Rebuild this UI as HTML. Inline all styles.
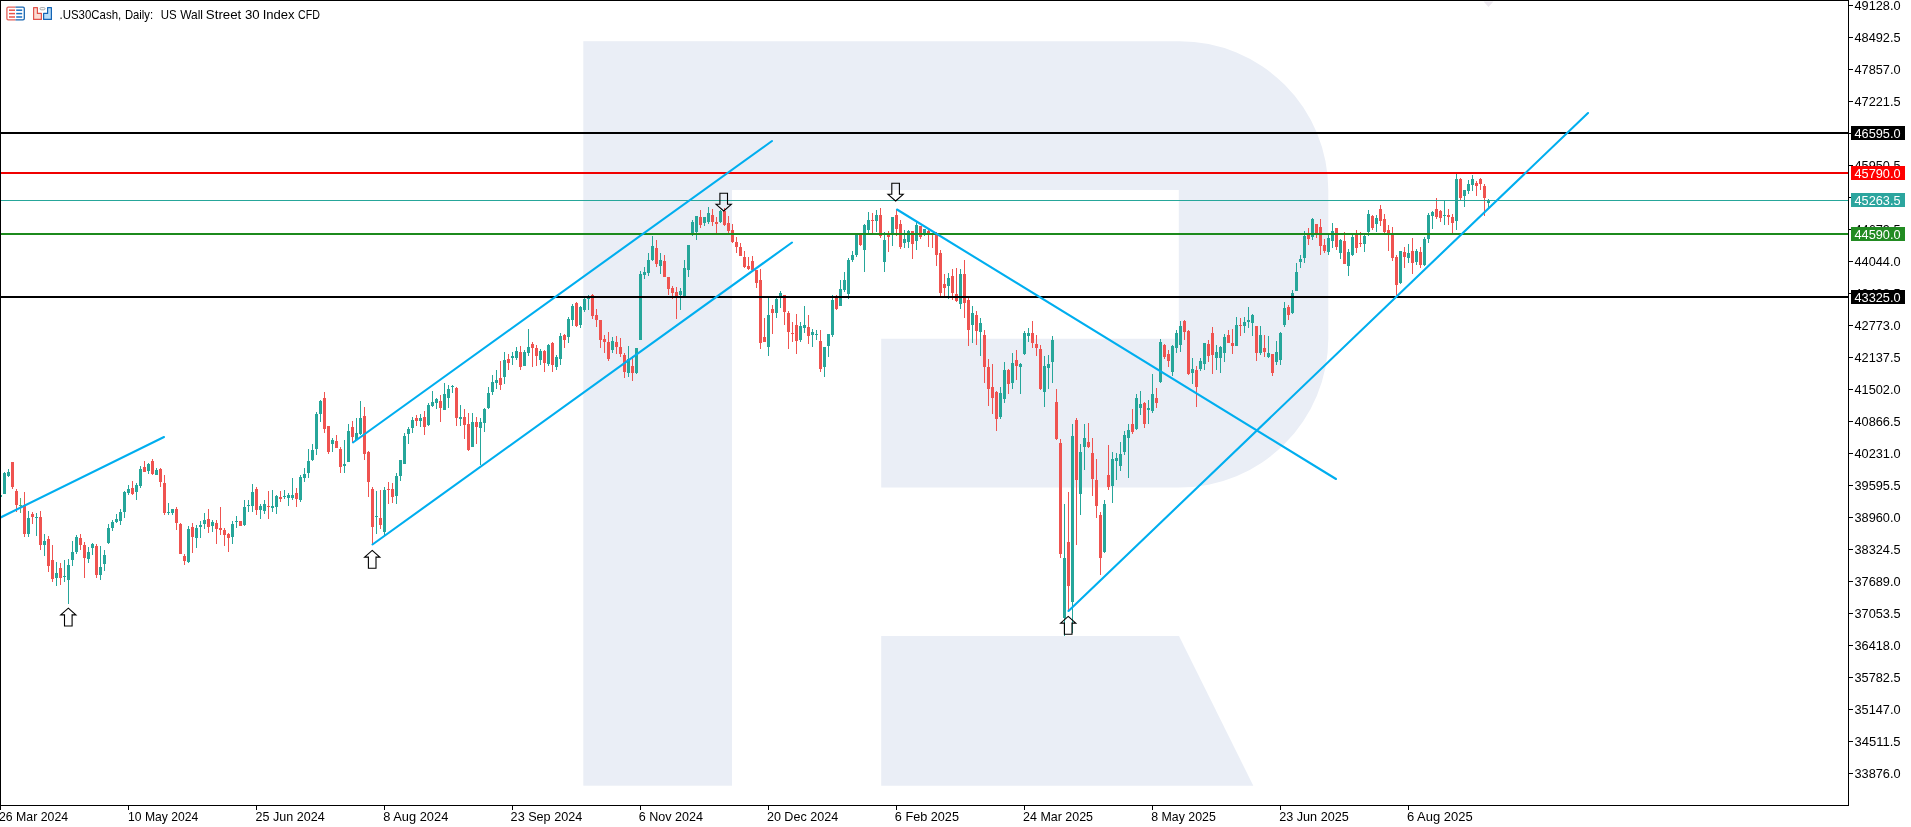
<!DOCTYPE html>
<html><head><meta charset="utf-8"><title>.US30Cash Daily</title>
<style>
html,body{margin:0;padding:0;background:#fff;}
body{width:1911px;height:827px;overflow:hidden;position:relative;font-family:"Liberation Sans",sans-serif;}
svg{position:absolute;left:0;top:0;}
text{font-family:"Liberation Sans",sans-serif;filter:grayscale(1);}
</style></head><body>
<svg width="1911" height="827" viewBox="0 0 1911 827">
<g fill="#eaeef6">
<rect x="583.3" y="41.2" width="148.7" height="744.5"/>
<path d="M732,41.2 H1179.5 A148.8,148.8 0 0 1 1328.3,190 V338.3 A148.8,149.3 0 0 1 1179.5,487.6 H881.2 V338.7 H1178.8 V190 H732 Z"/>
<path d="M881.2,636.1 H1179 L1253.3,785.7 H881.2 Z"/>
</g>
<g shape-rendering="crispEdges">
<rect x="1" y="495" width="1" height="2" fill="#26a69a"/>
<rect x="4" y="472" width="1" height="22" fill="#26a69a"/>
<rect x="3" y="473" width="3" height="21" fill="#26a69a"/>
<rect x="8" y="469" width="1" height="8" fill="#26a69a"/>
<rect x="7" y="472" width="3" height="4" fill="#26a69a"/>
<rect x="12" y="462" width="1" height="27" fill="#ef5350"/>
<rect x="11" y="462" width="3" height="25" fill="#ef5350"/>
<rect x="16" y="489" width="1" height="23" fill="#ef5350"/>
<rect x="15" y="491" width="3" height="14" fill="#ef5350"/>
<rect x="20" y="498" width="1" height="15" fill="#58b070"/>
<rect x="19" y="505" width="3" height="1" fill="#58b070"/>
<rect x="24" y="492" width="1" height="45" fill="#ef5350"/>
<rect x="23" y="505" width="3" height="29" fill="#ef5350"/>
<rect x="28" y="511" width="1" height="26" fill="#26a69a"/>
<rect x="27" y="518" width="3" height="16" fill="#26a69a"/>
<rect x="32" y="512" width="1" height="12" fill="#ef5350"/>
<rect x="31" y="514" width="3" height="3" fill="#ef5350"/>
<rect x="36" y="513" width="1" height="23" fill="#26a69a"/>
<rect x="35" y="517" width="3" height="1" fill="#26a69a"/>
<rect x="40" y="511" width="1" height="39" fill="#ef5350"/>
<rect x="39" y="517" width="3" height="28" fill="#ef5350"/>
<rect x="44" y="534" width="1" height="22" fill="#26a69a"/>
<rect x="43" y="541" width="3" height="4" fill="#26a69a"/>
<rect x="48" y="536" width="1" height="36" fill="#ef5350"/>
<rect x="47" y="539" width="3" height="27" fill="#ef5350"/>
<rect x="52" y="545" width="1" height="37" fill="#ef5350"/>
<rect x="51" y="560" width="3" height="19" fill="#ef5350"/>
<rect x="56" y="562" width="1" height="24" fill="#26a69a"/>
<rect x="55" y="573" width="3" height="5" fill="#26a69a"/>
<rect x="60" y="563" width="1" height="22" fill="#ef5350"/>
<rect x="59" y="568" width="3" height="10" fill="#ef5350"/>
<rect x="64" y="560" width="1" height="22" fill="#26a69a"/>
<rect x="63" y="576" width="3" height="1" fill="#26a69a"/>
<rect x="68" y="559" width="1" height="45" fill="#26a69a"/>
<rect x="67" y="565" width="3" height="15" fill="#26a69a"/>
<rect x="72" y="541" width="1" height="25" fill="#26a69a"/>
<rect x="71" y="552" width="3" height="8" fill="#26a69a"/>
<rect x="76" y="535" width="1" height="19" fill="#26a69a"/>
<rect x="75" y="537" width="3" height="15" fill="#26a69a"/>
<rect x="80" y="534" width="1" height="16" fill="#ef5350"/>
<rect x="79" y="538" width="3" height="7" fill="#ef5350"/>
<rect x="84" y="542" width="1" height="36" fill="#ef5350"/>
<rect x="83" y="545" width="3" height="13" fill="#ef5350"/>
<rect x="88" y="547" width="1" height="16" fill="#26a69a"/>
<rect x="87" y="552" width="3" height="7" fill="#26a69a"/>
<rect x="92" y="543" width="1" height="12" fill="#26a69a"/>
<rect x="91" y="544" width="3" height="4" fill="#26a69a"/>
<rect x="96" y="544" width="1" height="34" fill="#ef5350"/>
<rect x="95" y="546" width="3" height="29" fill="#ef5350"/>
<rect x="100" y="546" width="1" height="34" fill="#26a69a"/>
<rect x="99" y="567" width="3" height="8" fill="#26a69a"/>
<rect x="104" y="550" width="1" height="21" fill="#26a69a"/>
<rect x="103" y="555" width="3" height="9" fill="#26a69a"/>
<rect x="108" y="524" width="1" height="20" fill="#26a69a"/>
<rect x="107" y="528" width="3" height="15" fill="#26a69a"/>
<rect x="112" y="520" width="1" height="11" fill="#26a69a"/>
<rect x="111" y="522" width="3" height="6" fill="#26a69a"/>
<rect x="116" y="514" width="1" height="9" fill="#26a69a"/>
<rect x="115" y="519" width="3" height="3" fill="#26a69a"/>
<rect x="120" y="509" width="1" height="16" fill="#26a69a"/>
<rect x="119" y="512" width="3" height="9" fill="#26a69a"/>
<rect x="124" y="491" width="1" height="27" fill="#26a69a"/>
<rect x="123" y="492" width="3" height="20" fill="#26a69a"/>
<rect x="128" y="485" width="1" height="10" fill="#26a69a"/>
<rect x="127" y="489" width="3" height="4" fill="#26a69a"/>
<rect x="132" y="481" width="1" height="14" fill="#ef5350"/>
<rect x="131" y="488" width="3" height="6" fill="#ef5350"/>
<rect x="136" y="483" width="1" height="17" fill="#26a69a"/>
<rect x="135" y="485" width="3" height="7" fill="#26a69a"/>
<rect x="140" y="466" width="1" height="22" fill="#26a69a"/>
<rect x="139" y="469" width="3" height="17" fill="#26a69a"/>
<rect x="144" y="461" width="1" height="11" fill="#ef5350"/>
<rect x="143" y="467" width="3" height="5" fill="#ef5350"/>
<rect x="148" y="463" width="1" height="11" fill="#26a69a"/>
<rect x="147" y="464" width="3" height="7" fill="#26a69a"/>
<rect x="152" y="459" width="1" height="16" fill="#ef5350"/>
<rect x="151" y="461" width="3" height="13" fill="#ef5350"/>
<rect x="156" y="468" width="1" height="7" fill="#26a69a"/>
<rect x="155" y="470" width="3" height="5" fill="#26a69a"/>
<rect x="160" y="468" width="1" height="19" fill="#ef5350"/>
<rect x="159" y="469" width="3" height="13" fill="#ef5350"/>
<rect x="164" y="475" width="1" height="40" fill="#ef5350"/>
<rect x="163" y="483" width="3" height="30" fill="#ef5350"/>
<rect x="168" y="503" width="1" height="12" fill="#26a69a"/>
<rect x="167" y="512" width="3" height="1" fill="#26a69a"/>
<rect x="172" y="509" width="1" height="6" fill="#26a69a"/>
<rect x="171" y="509" width="3" height="4" fill="#26a69a"/>
<rect x="176" y="507" width="1" height="23" fill="#ef5350"/>
<rect x="175" y="509" width="3" height="14" fill="#ef5350"/>
<rect x="180" y="523" width="1" height="31" fill="#ef5350"/>
<rect x="179" y="524" width="3" height="30" fill="#ef5350"/>
<rect x="184" y="554" width="1" height="11" fill="#ef5350"/>
<rect x="183" y="556" width="3" height="5" fill="#ef5350"/>
<rect x="188" y="526" width="1" height="37" fill="#26a69a"/>
<rect x="187" y="529" width="3" height="33" fill="#26a69a"/>
<rect x="192" y="523" width="1" height="30" fill="#ef5350"/>
<rect x="191" y="527" width="3" height="10" fill="#ef5350"/>
<rect x="196" y="525" width="1" height="23" fill="#26a69a"/>
<rect x="195" y="528" width="3" height="10" fill="#26a69a"/>
<rect x="200" y="521" width="1" height="17" fill="#26a69a"/>
<rect x="199" y="525" width="3" height="2" fill="#26a69a"/>
<rect x="204" y="513" width="1" height="16" fill="#26a69a"/>
<rect x="203" y="520" width="3" height="4" fill="#26a69a"/>
<rect x="208" y="509" width="1" height="24" fill="#ef5350"/>
<rect x="207" y="519" width="3" height="8" fill="#ef5350"/>
<rect x="212" y="520" width="1" height="12" fill="#26a69a"/>
<rect x="211" y="522" width="3" height="4" fill="#26a69a"/>
<rect x="216" y="520" width="1" height="24" fill="#ef5350"/>
<rect x="215" y="523" width="3" height="6" fill="#ef5350"/>
<rect x="220" y="507" width="1" height="28" fill="#ef5350"/>
<rect x="219" y="528" width="3" height="2" fill="#ef5350"/>
<rect x="224" y="528" width="1" height="18" fill="#ef5350"/>
<rect x="223" y="530" width="3" height="5" fill="#ef5350"/>
<rect x="228" y="533" width="1" height="19" fill="#ef5350"/>
<rect x="227" y="534" width="3" height="4" fill="#ef5350"/>
<rect x="232" y="521" width="1" height="23" fill="#26a69a"/>
<rect x="231" y="524" width="3" height="13" fill="#26a69a"/>
<rect x="236" y="516" width="1" height="12" fill="#26a69a"/>
<rect x="235" y="521" width="3" height="1" fill="#26a69a"/>
<rect x="240" y="521" width="1" height="5" fill="#ef5350"/>
<rect x="239" y="521" width="3" height="5" fill="#ef5350"/>
<rect x="244" y="500" width="1" height="26" fill="#26a69a"/>
<rect x="243" y="507" width="3" height="18" fill="#26a69a"/>
<rect x="248" y="500" width="1" height="12" fill="#26a69a"/>
<rect x="247" y="505" width="3" height="1" fill="#26a69a"/>
<rect x="252" y="484" width="1" height="28" fill="#26a69a"/>
<rect x="251" y="492" width="3" height="14" fill="#26a69a"/>
<rect x="256" y="487" width="1" height="28" fill="#ef5350"/>
<rect x="255" y="489" width="3" height="21" fill="#ef5350"/>
<rect x="260" y="504" width="1" height="15" fill="#26a69a"/>
<rect x="259" y="506" width="3" height="4" fill="#26a69a"/>
<rect x="264" y="500" width="1" height="14" fill="#26a69a"/>
<rect x="263" y="504" width="3" height="7" fill="#26a69a"/>
<rect x="268" y="491" width="1" height="28" fill="#ef5350"/>
<rect x="267" y="506" width="3" height="1" fill="#ef5350"/>
<rect x="272" y="490" width="1" height="22" fill="#26a69a"/>
<rect x="271" y="506" width="3" height="2" fill="#26a69a"/>
<rect x="276" y="495" width="1" height="19" fill="#26a69a"/>
<rect x="275" y="496" width="3" height="11" fill="#26a69a"/>
<rect x="280" y="491" width="1" height="11" fill="#ef5350"/>
<rect x="279" y="497" width="3" height="2" fill="#ef5350"/>
<rect x="284" y="490" width="1" height="9" fill="#26a69a"/>
<rect x="283" y="496" width="3" height="1" fill="#26a69a"/>
<rect x="288" y="493" width="1" height="13" fill="#26a69a"/>
<rect x="287" y="495" width="3" height="3" fill="#26a69a"/>
<rect x="292" y="478" width="1" height="22" fill="#26a69a"/>
<rect x="291" y="495" width="3" height="3" fill="#26a69a"/>
<rect x="296" y="488" width="1" height="19" fill="#ef5350"/>
<rect x="295" y="493" width="3" height="6" fill="#ef5350"/>
<rect x="300" y="475" width="1" height="27" fill="#26a69a"/>
<rect x="299" y="477" width="3" height="23" fill="#26a69a"/>
<rect x="304" y="468" width="1" height="14" fill="#26a69a"/>
<rect x="303" y="474" width="3" height="4" fill="#26a69a"/>
<rect x="308" y="449" width="1" height="29" fill="#26a69a"/>
<rect x="307" y="461" width="3" height="12" fill="#26a69a"/>
<rect x="312" y="444" width="1" height="17" fill="#26a69a"/>
<rect x="311" y="450" width="3" height="10" fill="#26a69a"/>
<rect x="316" y="412" width="1" height="43" fill="#26a69a"/>
<rect x="315" y="414" width="3" height="35" fill="#26a69a"/>
<rect x="320" y="400" width="1" height="22" fill="#26a69a"/>
<rect x="319" y="401" width="3" height="13" fill="#26a69a"/>
<rect x="324" y="392" width="1" height="41" fill="#ef5350"/>
<rect x="323" y="398" width="3" height="31" fill="#ef5350"/>
<rect x="328" y="426" width="1" height="28" fill="#ef5350"/>
<rect x="327" y="426" width="3" height="26" fill="#ef5350"/>
<rect x="332" y="438" width="1" height="14" fill="#26a69a"/>
<rect x="331" y="440" width="3" height="4" fill="#26a69a"/>
<rect x="336" y="435" width="1" height="13" fill="#ef5350"/>
<rect x="335" y="441" width="3" height="7" fill="#ef5350"/>
<rect x="340" y="447" width="1" height="26" fill="#ef5350"/>
<rect x="339" y="449" width="3" height="18" fill="#ef5350"/>
<rect x="344" y="440" width="1" height="33" fill="#26a69a"/>
<rect x="343" y="464" width="3" height="2" fill="#26a69a"/>
<rect x="348" y="424" width="1" height="38" fill="#26a69a"/>
<rect x="347" y="431" width="3" height="31" fill="#26a69a"/>
<rect x="352" y="421" width="1" height="22" fill="#ef5350"/>
<rect x="351" y="427" width="3" height="10" fill="#ef5350"/>
<rect x="356" y="418" width="1" height="22" fill="#26a69a"/>
<rect x="355" y="433" width="3" height="7" fill="#26a69a"/>
<rect x="360" y="401" width="1" height="34" fill="#26a69a"/>
<rect x="359" y="418" width="3" height="16" fill="#26a69a"/>
<rect x="364" y="407" width="1" height="53" fill="#ef5350"/>
<rect x="363" y="416" width="3" height="38" fill="#ef5350"/>
<rect x="368" y="451" width="1" height="46" fill="#ef5350"/>
<rect x="367" y="452" width="3" height="30" fill="#ef5350"/>
<rect x="372" y="487" width="1" height="57" fill="#ef5350"/>
<rect x="371" y="489" width="3" height="38" fill="#ef5350"/>
<rect x="376" y="491" width="1" height="43" fill="#26a69a"/>
<rect x="375" y="516" width="3" height="1" fill="#26a69a"/>
<rect x="380" y="490" width="1" height="39" fill="#ef5350"/>
<rect x="379" y="518" width="3" height="7" fill="#ef5350"/>
<rect x="384" y="487" width="1" height="49" fill="#26a69a"/>
<rect x="383" y="490" width="3" height="42" fill="#26a69a"/>
<rect x="388" y="482" width="1" height="22" fill="#ef5350"/>
<rect x="387" y="489" width="3" height="1" fill="#ef5350"/>
<rect x="392" y="483" width="1" height="20" fill="#ef5350"/>
<rect x="391" y="489" width="3" height="8" fill="#ef5350"/>
<rect x="396" y="473" width="1" height="31" fill="#26a69a"/>
<rect x="395" y="476" width="3" height="20" fill="#26a69a"/>
<rect x="400" y="460" width="1" height="21" fill="#26a69a"/>
<rect x="399" y="460" width="3" height="16" fill="#26a69a"/>
<rect x="404" y="433" width="1" height="31" fill="#26a69a"/>
<rect x="403" y="436" width="3" height="28" fill="#26a69a"/>
<rect x="408" y="427" width="1" height="17" fill="#26a69a"/>
<rect x="407" y="429" width="3" height="5" fill="#26a69a"/>
<rect x="412" y="417" width="1" height="16" fill="#26a69a"/>
<rect x="411" y="420" width="3" height="8" fill="#26a69a"/>
<rect x="416" y="415" width="1" height="11" fill="#ef5350"/>
<rect x="415" y="418" width="3" height="3" fill="#ef5350"/>
<rect x="420" y="414" width="1" height="13" fill="#26a69a"/>
<rect x="419" y="418" width="3" height="3" fill="#26a69a"/>
<rect x="424" y="411" width="1" height="24" fill="#ef5350"/>
<rect x="423" y="417" width="3" height="10" fill="#ef5350"/>
<rect x="428" y="403" width="1" height="23" fill="#26a69a"/>
<rect x="427" y="405" width="3" height="20" fill="#26a69a"/>
<rect x="432" y="391" width="1" height="16" fill="#26a69a"/>
<rect x="431" y="402" width="3" height="4" fill="#26a69a"/>
<rect x="436" y="398" width="1" height="11" fill="#26a69a"/>
<rect x="435" y="399" width="3" height="4" fill="#26a69a"/>
<rect x="440" y="395" width="1" height="27" fill="#ef5350"/>
<rect x="439" y="401" width="3" height="7" fill="#ef5350"/>
<rect x="444" y="383" width="1" height="27" fill="#26a69a"/>
<rect x="443" y="394" width="3" height="16" fill="#26a69a"/>
<rect x="448" y="385" width="1" height="23" fill="#26a69a"/>
<rect x="447" y="389" width="3" height="9" fill="#26a69a"/>
<rect x="452" y="385" width="1" height="8" fill="#26a69a"/>
<rect x="451" y="386" width="3" height="1" fill="#26a69a"/>
<rect x="456" y="387" width="1" height="39" fill="#ef5350"/>
<rect x="455" y="388" width="3" height="30" fill="#ef5350"/>
<rect x="460" y="405" width="1" height="21" fill="#26a69a"/>
<rect x="459" y="417" width="3" height="2" fill="#26a69a"/>
<rect x="464" y="409" width="1" height="30" fill="#ef5350"/>
<rect x="463" y="417" width="3" height="8" fill="#ef5350"/>
<rect x="468" y="413" width="1" height="38" fill="#ef5350"/>
<rect x="467" y="424" width="3" height="26" fill="#ef5350"/>
<rect x="472" y="413" width="1" height="34" fill="#26a69a"/>
<rect x="471" y="422" width="3" height="25" fill="#26a69a"/>
<rect x="476" y="417" width="1" height="27" fill="#ef5350"/>
<rect x="475" y="422" width="3" height="5" fill="#ef5350"/>
<rect x="480" y="418" width="1" height="47" fill="#26a69a"/>
<rect x="479" y="422" width="3" height="6" fill="#26a69a"/>
<rect x="484" y="408" width="1" height="24" fill="#26a69a"/>
<rect x="483" y="409" width="3" height="14" fill="#26a69a"/>
<rect x="488" y="387" width="1" height="22" fill="#26a69a"/>
<rect x="487" y="393" width="3" height="15" fill="#26a69a"/>
<rect x="492" y="375" width="1" height="20" fill="#26a69a"/>
<rect x="491" y="382" width="3" height="10" fill="#26a69a"/>
<rect x="496" y="370" width="1" height="19" fill="#26a69a"/>
<rect x="495" y="380" width="3" height="3" fill="#26a69a"/>
<rect x="500" y="361" width="1" height="29" fill="#ef5350"/>
<rect x="499" y="378" width="3" height="7" fill="#ef5350"/>
<rect x="504" y="352" width="1" height="32" fill="#26a69a"/>
<rect x="503" y="360" width="3" height="17" fill="#26a69a"/>
<rect x="508" y="354" width="1" height="16" fill="#ef5350"/>
<rect x="507" y="359" width="3" height="4" fill="#ef5350"/>
<rect x="512" y="352" width="1" height="13" fill="#26a69a"/>
<rect x="511" y="356" width="3" height="2" fill="#26a69a"/>
<rect x="516" y="347" width="1" height="13" fill="#26a69a"/>
<rect x="515" y="351" width="3" height="7" fill="#26a69a"/>
<rect x="520" y="346" width="1" height="24" fill="#ef5350"/>
<rect x="519" y="352" width="3" height="15" fill="#ef5350"/>
<rect x="524" y="350" width="1" height="16" fill="#26a69a"/>
<rect x="523" y="352" width="3" height="14" fill="#26a69a"/>
<rect x="528" y="329" width="1" height="27" fill="#26a69a"/>
<rect x="527" y="347" width="3" height="6" fill="#26a69a"/>
<rect x="532" y="342" width="1" height="25" fill="#ef5350"/>
<rect x="531" y="344" width="3" height="4" fill="#ef5350"/>
<rect x="536" y="345" width="1" height="21" fill="#ef5350"/>
<rect x="535" y="348" width="3" height="8" fill="#ef5350"/>
<rect x="540" y="349" width="1" height="16" fill="#26a69a"/>
<rect x="539" y="351" width="3" height="9" fill="#26a69a"/>
<rect x="544" y="350" width="1" height="22" fill="#ef5350"/>
<rect x="543" y="351" width="3" height="12" fill="#ef5350"/>
<rect x="548" y="344" width="1" height="22" fill="#26a69a"/>
<rect x="547" y="345" width="3" height="19" fill="#26a69a"/>
<rect x="552" y="342" width="1" height="30" fill="#ef5350"/>
<rect x="551" y="343" width="3" height="22" fill="#ef5350"/>
<rect x="556" y="355" width="1" height="15" fill="#26a69a"/>
<rect x="555" y="357" width="3" height="10" fill="#26a69a"/>
<rect x="560" y="333" width="1" height="32" fill="#26a69a"/>
<rect x="559" y="336" width="3" height="23" fill="#26a69a"/>
<rect x="564" y="334" width="1" height="14" fill="#ef5350"/>
<rect x="563" y="335" width="3" height="5" fill="#ef5350"/>
<rect x="568" y="317" width="1" height="26" fill="#26a69a"/>
<rect x="567" y="319" width="3" height="18" fill="#26a69a"/>
<rect x="572" y="304" width="1" height="22" fill="#26a69a"/>
<rect x="571" y="306" width="3" height="14" fill="#26a69a"/>
<rect x="576" y="302" width="1" height="25" fill="#ef5350"/>
<rect x="575" y="303" width="3" height="23" fill="#ef5350"/>
<rect x="580" y="306" width="1" height="22" fill="#26a69a"/>
<rect x="579" y="307" width="3" height="18" fill="#26a69a"/>
<rect x="584" y="298" width="1" height="14" fill="#26a69a"/>
<rect x="583" y="299" width="3" height="11" fill="#26a69a"/>
<rect x="588" y="295" width="1" height="15" fill="#26a69a"/>
<rect x="587" y="297" width="3" height="2" fill="#26a69a"/>
<rect x="592" y="294" width="1" height="25" fill="#ef5350"/>
<rect x="591" y="295" width="3" height="21" fill="#ef5350"/>
<rect x="596" y="309" width="1" height="18" fill="#ef5350"/>
<rect x="595" y="315" width="3" height="5" fill="#ef5350"/>
<rect x="600" y="320" width="1" height="28" fill="#ef5350"/>
<rect x="599" y="320" width="3" height="20" fill="#ef5350"/>
<rect x="604" y="335" width="1" height="18" fill="#ef5350"/>
<rect x="603" y="339" width="3" height="3" fill="#ef5350"/>
<rect x="608" y="332" width="1" height="29" fill="#ef5350"/>
<rect x="607" y="342" width="3" height="17" fill="#ef5350"/>
<rect x="612" y="337" width="1" height="16" fill="#26a69a"/>
<rect x="611" y="341" width="3" height="9" fill="#26a69a"/>
<rect x="616" y="336" width="1" height="18" fill="#ef5350"/>
<rect x="615" y="342" width="3" height="5" fill="#ef5350"/>
<rect x="620" y="338" width="1" height="19" fill="#ef5350"/>
<rect x="619" y="347" width="3" height="7" fill="#ef5350"/>
<rect x="624" y="353" width="1" height="25" fill="#ef5350"/>
<rect x="623" y="355" width="3" height="17" fill="#ef5350"/>
<rect x="628" y="346" width="1" height="31" fill="#26a69a"/>
<rect x="627" y="359" width="3" height="14" fill="#26a69a"/>
<rect x="632" y="356" width="1" height="25" fill="#ef5350"/>
<rect x="631" y="366" width="3" height="7" fill="#ef5350"/>
<rect x="636" y="348" width="1" height="26" fill="#26a69a"/>
<rect x="635" y="348" width="3" height="25" fill="#26a69a"/>
<rect x="640" y="271" width="1" height="69" fill="#26a69a"/>
<rect x="639" y="274" width="3" height="66" fill="#26a69a"/>
<rect x="644" y="267" width="1" height="12" fill="#26a69a"/>
<rect x="643" y="272" width="3" height="3" fill="#26a69a"/>
<rect x="648" y="253" width="1" height="23" fill="#26a69a"/>
<rect x="647" y="260" width="3" height="13" fill="#26a69a"/>
<rect x="652" y="236" width="1" height="25" fill="#26a69a"/>
<rect x="651" y="246" width="3" height="14" fill="#26a69a"/>
<rect x="656" y="240" width="1" height="27" fill="#ef5350"/>
<rect x="655" y="248" width="3" height="16" fill="#ef5350"/>
<rect x="660" y="253" width="1" height="21" fill="#26a69a"/>
<rect x="659" y="260" width="3" height="6" fill="#26a69a"/>
<rect x="664" y="255" width="1" height="22" fill="#ef5350"/>
<rect x="663" y="261" width="3" height="16" fill="#ef5350"/>
<rect x="668" y="277" width="1" height="18" fill="#ef5350"/>
<rect x="667" y="277" width="3" height="12" fill="#ef5350"/>
<rect x="672" y="286" width="1" height="13" fill="#ef5350"/>
<rect x="671" y="288" width="3" height="5" fill="#ef5350"/>
<rect x="676" y="287" width="1" height="32" fill="#ef5350"/>
<rect x="675" y="292" width="3" height="4" fill="#ef5350"/>
<rect x="680" y="288" width="1" height="22" fill="#26a69a"/>
<rect x="679" y="291" width="3" height="4" fill="#26a69a"/>
<rect x="684" y="260" width="1" height="38" fill="#26a69a"/>
<rect x="683" y="268" width="3" height="28" fill="#26a69a"/>
<rect x="688" y="245" width="1" height="32" fill="#26a69a"/>
<rect x="687" y="245" width="3" height="25" fill="#26a69a"/>
<rect x="692" y="220" width="1" height="16" fill="#26a69a"/>
<rect x="691" y="222" width="3" height="12" fill="#26a69a"/>
<rect x="696" y="216" width="1" height="24" fill="#26a69a"/>
<rect x="695" y="216" width="3" height="16" fill="#26a69a"/>
<rect x="700" y="210" width="1" height="18" fill="#ef5350"/>
<rect x="699" y="217" width="3" height="8" fill="#ef5350"/>
<rect x="704" y="217" width="1" height="9" fill="#26a69a"/>
<rect x="703" y="217" width="3" height="6" fill="#26a69a"/>
<rect x="708" y="207" width="1" height="17" fill="#26a69a"/>
<rect x="707" y="213" width="3" height="9" fill="#26a69a"/>
<rect x="712" y="209" width="1" height="17" fill="#ef5350"/>
<rect x="711" y="215" width="3" height="7" fill="#ef5350"/>
<rect x="716" y="217" width="1" height="16" fill="#ef5350"/>
<rect x="715" y="222" width="3" height="2" fill="#ef5350"/>
<rect x="720" y="210" width="1" height="13" fill="#26a69a"/>
<rect x="719" y="211" width="3" height="11" fill="#26a69a"/>
<rect x="724" y="208" width="1" height="18" fill="#ef5350"/>
<rect x="723" y="211" width="3" height="14" fill="#ef5350"/>
<rect x="728" y="216" width="1" height="17" fill="#ef5350"/>
<rect x="727" y="223" width="3" height="8" fill="#ef5350"/>
<rect x="732" y="224" width="1" height="19" fill="#ef5350"/>
<rect x="731" y="230" width="3" height="12" fill="#ef5350"/>
<rect x="736" y="237" width="1" height="16" fill="#ef5350"/>
<rect x="735" y="242" width="3" height="5" fill="#ef5350"/>
<rect x="740" y="243" width="1" height="13" fill="#ef5350"/>
<rect x="739" y="247" width="3" height="9" fill="#ef5350"/>
<rect x="744" y="251" width="1" height="17" fill="#ef5350"/>
<rect x="743" y="257" width="3" height="10" fill="#ef5350"/>
<rect x="748" y="257" width="1" height="13" fill="#ef5350"/>
<rect x="747" y="266" width="3" height="3" fill="#ef5350"/>
<rect x="752" y="256" width="1" height="15" fill="#ef5350"/>
<rect x="751" y="261" width="3" height="9" fill="#ef5350"/>
<rect x="756" y="270" width="1" height="18" fill="#ef5350"/>
<rect x="755" y="270" width="3" height="13" fill="#ef5350"/>
<rect x="760" y="269" width="1" height="80" fill="#ef5350"/>
<rect x="759" y="280" width="3" height="63" fill="#ef5350"/>
<rect x="764" y="318" width="1" height="24" fill="#ef5350"/>
<rect x="763" y="337" width="3" height="5" fill="#ef5350"/>
<rect x="768" y="297" width="1" height="59" fill="#26a69a"/>
<rect x="767" y="315" width="3" height="32" fill="#26a69a"/>
<rect x="772" y="305" width="1" height="29" fill="#ef5350"/>
<rect x="771" y="309" width="3" height="4" fill="#ef5350"/>
<rect x="776" y="298" width="1" height="20" fill="#26a69a"/>
<rect x="775" y="299" width="3" height="14" fill="#26a69a"/>
<rect x="780" y="291" width="1" height="17" fill="#26a69a"/>
<rect x="779" y="293" width="3" height="3" fill="#26a69a"/>
<rect x="784" y="295" width="1" height="30" fill="#ef5350"/>
<rect x="783" y="295" width="3" height="17" fill="#ef5350"/>
<rect x="788" y="311" width="1" height="38" fill="#ef5350"/>
<rect x="787" y="313" width="3" height="19" fill="#ef5350"/>
<rect x="792" y="322" width="1" height="20" fill="#ef5350"/>
<rect x="791" y="333" width="3" height="1" fill="#ef5350"/>
<rect x="796" y="314" width="1" height="40" fill="#ef5350"/>
<rect x="795" y="325" width="3" height="16" fill="#ef5350"/>
<rect x="800" y="322" width="1" height="20" fill="#26a69a"/>
<rect x="799" y="326" width="3" height="14" fill="#26a69a"/>
<rect x="804" y="306" width="1" height="27" fill="#26a69a"/>
<rect x="803" y="325" width="3" height="3" fill="#26a69a"/>
<rect x="808" y="315" width="1" height="29" fill="#ef5350"/>
<rect x="807" y="327" width="3" height="9" fill="#ef5350"/>
<rect x="812" y="329" width="1" height="18" fill="#26a69a"/>
<rect x="811" y="332" width="3" height="3" fill="#26a69a"/>
<rect x="816" y="330" width="1" height="10" fill="#26a69a"/>
<rect x="815" y="334" width="3" height="1" fill="#26a69a"/>
<rect x="820" y="330" width="1" height="42" fill="#ef5350"/>
<rect x="819" y="341" width="3" height="28" fill="#ef5350"/>
<rect x="824" y="347" width="1" height="30" fill="#26a69a"/>
<rect x="823" y="347" width="3" height="20" fill="#26a69a"/>
<rect x="828" y="334" width="1" height="23" fill="#26a69a"/>
<rect x="827" y="334" width="3" height="12" fill="#26a69a"/>
<rect x="832" y="295" width="1" height="42" fill="#26a69a"/>
<rect x="831" y="300" width="3" height="35" fill="#26a69a"/>
<rect x="836" y="295" width="1" height="15" fill="#ef5350"/>
<rect x="835" y="298" width="3" height="11" fill="#ef5350"/>
<rect x="840" y="280" width="1" height="26" fill="#26a69a"/>
<rect x="839" y="289" width="3" height="17" fill="#26a69a"/>
<rect x="844" y="272" width="1" height="20" fill="#26a69a"/>
<rect x="843" y="280" width="3" height="10" fill="#26a69a"/>
<rect x="848" y="258" width="1" height="41" fill="#26a69a"/>
<rect x="847" y="260" width="3" height="34" fill="#26a69a"/>
<rect x="852" y="251" width="1" height="11" fill="#26a69a"/>
<rect x="851" y="255" width="3" height="5" fill="#26a69a"/>
<rect x="856" y="234" width="1" height="23" fill="#26a69a"/>
<rect x="855" y="234" width="3" height="21" fill="#26a69a"/>
<rect x="860" y="234" width="1" height="12" fill="#ef5350"/>
<rect x="859" y="235" width="3" height="10" fill="#ef5350"/>
<rect x="864" y="224" width="1" height="48" fill="#26a69a"/>
<rect x="863" y="225" width="3" height="25" fill="#26a69a"/>
<rect x="868" y="212" width="1" height="21" fill="#26a69a"/>
<rect x="867" y="220" width="3" height="10" fill="#26a69a"/>
<rect x="872" y="213" width="1" height="20" fill="#ef5350"/>
<rect x="871" y="220" width="3" height="1" fill="#ef5350"/>
<rect x="876" y="210" width="1" height="22" fill="#26a69a"/>
<rect x="875" y="215" width="3" height="6" fill="#26a69a"/>
<rect x="880" y="208" width="1" height="30" fill="#ef5350"/>
<rect x="879" y="215" width="3" height="21" fill="#ef5350"/>
<rect x="884" y="232" width="1" height="40" fill="#26a69a"/>
<rect x="883" y="240" width="3" height="22" fill="#26a69a"/>
<rect x="888" y="231" width="1" height="21" fill="#ef5350"/>
<rect x="887" y="235" width="3" height="2" fill="#ef5350"/>
<rect x="892" y="217" width="1" height="29" fill="#26a69a"/>
<rect x="891" y="217" width="3" height="16" fill="#26a69a"/>
<rect x="896" y="210" width="1" height="26" fill="#ef5350"/>
<rect x="895" y="215" width="3" height="14" fill="#ef5350"/>
<rect x="900" y="220" width="1" height="29" fill="#ef5350"/>
<rect x="899" y="224" width="3" height="23" fill="#ef5350"/>
<rect x="904" y="230" width="1" height="18" fill="#26a69a"/>
<rect x="903" y="239" width="3" height="4" fill="#26a69a"/>
<rect x="908" y="230" width="1" height="18" fill="#26a69a"/>
<rect x="907" y="231" width="3" height="11" fill="#26a69a"/>
<rect x="912" y="231" width="1" height="28" fill="#ef5350"/>
<rect x="911" y="231" width="3" height="13" fill="#ef5350"/>
<rect x="916" y="222" width="1" height="28" fill="#26a69a"/>
<rect x="915" y="225" width="3" height="16" fill="#26a69a"/>
<rect x="920" y="226" width="1" height="13" fill="#ef5350"/>
<rect x="919" y="226" width="3" height="11" fill="#ef5350"/>
<rect x="924" y="229" width="1" height="7" fill="#26a69a"/>
<rect x="923" y="229" width="3" height="4" fill="#26a69a"/>
<rect x="928" y="230" width="1" height="17" fill="#ef5350"/>
<rect x="927" y="231" width="3" height="2" fill="#ef5350"/>
<rect x="932" y="234" width="1" height="14" fill="#ef5350"/>
<rect x="931" y="234" width="3" height="1" fill="#ef5350"/>
<rect x="936" y="232" width="1" height="34" fill="#ef5350"/>
<rect x="935" y="233" width="3" height="22" fill="#ef5350"/>
<rect x="940" y="250" width="1" height="46" fill="#ef5350"/>
<rect x="939" y="253" width="3" height="40" fill="#ef5350"/>
<rect x="944" y="274" width="1" height="22" fill="#ef5350"/>
<rect x="943" y="284" width="3" height="4" fill="#ef5350"/>
<rect x="948" y="273" width="1" height="26" fill="#26a69a"/>
<rect x="947" y="278" width="3" height="8" fill="#26a69a"/>
<rect x="952" y="269" width="1" height="31" fill="#ef5350"/>
<rect x="951" y="276" width="3" height="17" fill="#ef5350"/>
<rect x="956" y="268" width="1" height="34" fill="#ef5350"/>
<rect x="955" y="294" width="3" height="7" fill="#ef5350"/>
<rect x="960" y="269" width="1" height="40" fill="#26a69a"/>
<rect x="959" y="274" width="3" height="30" fill="#26a69a"/>
<rect x="964" y="260" width="1" height="58" fill="#ef5350"/>
<rect x="963" y="274" width="3" height="29" fill="#ef5350"/>
<rect x="968" y="298" width="1" height="48" fill="#ef5350"/>
<rect x="967" y="300" width="3" height="30" fill="#ef5350"/>
<rect x="972" y="306" width="1" height="37" fill="#26a69a"/>
<rect x="971" y="313" width="3" height="12" fill="#26a69a"/>
<rect x="976" y="311" width="1" height="34" fill="#ef5350"/>
<rect x="975" y="315" width="3" height="16" fill="#ef5350"/>
<rect x="980" y="318" width="1" height="38" fill="#26a69a"/>
<rect x="979" y="323" width="3" height="9" fill="#26a69a"/>
<rect x="984" y="330" width="1" height="53" fill="#ef5350"/>
<rect x="983" y="335" width="3" height="32" fill="#ef5350"/>
<rect x="988" y="359" width="1" height="47" fill="#ef5350"/>
<rect x="987" y="367" width="3" height="22" fill="#ef5350"/>
<rect x="992" y="364" width="1" height="50" fill="#ef5350"/>
<rect x="991" y="387" width="3" height="11" fill="#ef5350"/>
<rect x="996" y="391" width="1" height="40" fill="#ef5350"/>
<rect x="995" y="392" width="3" height="27" fill="#ef5350"/>
<rect x="1000" y="387" width="1" height="32" fill="#26a69a"/>
<rect x="999" y="393" width="3" height="24" fill="#26a69a"/>
<rect x="1004" y="362" width="1" height="41" fill="#26a69a"/>
<rect x="1003" y="370" width="3" height="29" fill="#26a69a"/>
<rect x="1008" y="369" width="1" height="25" fill="#ef5350"/>
<rect x="1007" y="370" width="3" height="14" fill="#ef5350"/>
<rect x="1012" y="353" width="1" height="36" fill="#26a69a"/>
<rect x="1011" y="363" width="3" height="20" fill="#26a69a"/>
<rect x="1016" y="350" width="1" height="30" fill="#ef5350"/>
<rect x="1015" y="360" width="3" height="6" fill="#ef5350"/>
<rect x="1020" y="363" width="1" height="31" fill="#26a69a"/>
<rect x="1019" y="364" width="3" height="3" fill="#26a69a"/>
<rect x="1024" y="331" width="1" height="24" fill="#26a69a"/>
<rect x="1023" y="333" width="3" height="21" fill="#26a69a"/>
<rect x="1028" y="328" width="1" height="14" fill="#26a69a"/>
<rect x="1027" y="333" width="3" height="3" fill="#26a69a"/>
<rect x="1032" y="321" width="1" height="27" fill="#ef5350"/>
<rect x="1031" y="333" width="3" height="10" fill="#ef5350"/>
<rect x="1036" y="335" width="1" height="21" fill="#ef5350"/>
<rect x="1035" y="344" width="3" height="4" fill="#ef5350"/>
<rect x="1040" y="345" width="1" height="45" fill="#ef5350"/>
<rect x="1039" y="349" width="3" height="40" fill="#ef5350"/>
<rect x="1044" y="356" width="1" height="51" fill="#26a69a"/>
<rect x="1043" y="366" width="3" height="26" fill="#26a69a"/>
<rect x="1048" y="355" width="1" height="34" fill="#26a69a"/>
<rect x="1047" y="364" width="3" height="4" fill="#26a69a"/>
<rect x="1052" y="336" width="1" height="47" fill="#26a69a"/>
<rect x="1051" y="340" width="3" height="22" fill="#26a69a"/>
<rect x="1056" y="389" width="1" height="51" fill="#ef5350"/>
<rect x="1055" y="402" width="3" height="37" fill="#ef5350"/>
<rect x="1060" y="439" width="1" height="119" fill="#ef5350"/>
<rect x="1059" y="443" width="3" height="111" fill="#ef5350"/>
<rect x="1064" y="504" width="1" height="132" fill="#26a69a"/>
<rect x="1063" y="558" width="3" height="60" fill="#26a69a"/>
<rect x="1068" y="492" width="1" height="118" fill="#ef5350"/>
<rect x="1067" y="542" width="3" height="44" fill="#ef5350"/>
<rect x="1072" y="424" width="1" height="209" fill="#26a69a"/>
<rect x="1071" y="436" width="3" height="166" fill="#26a69a"/>
<rect x="1076" y="418" width="1" height="127" fill="#ef5350"/>
<rect x="1075" y="420" width="3" height="60" fill="#ef5350"/>
<rect x="1080" y="444" width="1" height="71" fill="#26a69a"/>
<rect x="1079" y="452" width="3" height="42" fill="#26a69a"/>
<rect x="1084" y="424" width="1" height="46" fill="#26a69a"/>
<rect x="1083" y="438" width="3" height="9" fill="#26a69a"/>
<rect x="1088" y="423" width="1" height="25" fill="#ef5350"/>
<rect x="1087" y="442" width="3" height="5" fill="#ef5350"/>
<rect x="1092" y="438" width="1" height="58" fill="#ef5350"/>
<rect x="1091" y="453" width="3" height="26" fill="#ef5350"/>
<rect x="1096" y="459" width="1" height="59" fill="#ef5350"/>
<rect x="1095" y="480" width="3" height="26" fill="#ef5350"/>
<rect x="1100" y="512" width="1" height="63" fill="#ef5350"/>
<rect x="1099" y="515" width="3" height="43" fill="#ef5350"/>
<rect x="1104" y="500" width="1" height="53" fill="#26a69a"/>
<rect x="1103" y="504" width="3" height="48" fill="#26a69a"/>
<rect x="1108" y="445" width="1" height="45" fill="#ef5350"/>
<rect x="1107" y="475" width="3" height="12" fill="#ef5350"/>
<rect x="1112" y="452" width="1" height="51" fill="#26a69a"/>
<rect x="1111" y="459" width="3" height="27" fill="#26a69a"/>
<rect x="1116" y="453" width="1" height="27" fill="#26a69a"/>
<rect x="1115" y="458" width="3" height="3" fill="#26a69a"/>
<rect x="1120" y="442" width="1" height="29" fill="#26a69a"/>
<rect x="1119" y="454" width="3" height="12" fill="#26a69a"/>
<rect x="1124" y="431" width="1" height="24" fill="#26a69a"/>
<rect x="1123" y="435" width="3" height="17" fill="#26a69a"/>
<rect x="1128" y="424" width="1" height="54" fill="#26a69a"/>
<rect x="1127" y="430" width="3" height="8" fill="#26a69a"/>
<rect x="1132" y="409" width="1" height="25" fill="#ef5350"/>
<rect x="1131" y="424" width="3" height="8" fill="#ef5350"/>
<rect x="1136" y="394" width="1" height="36" fill="#26a69a"/>
<rect x="1135" y="398" width="3" height="31" fill="#26a69a"/>
<rect x="1140" y="391" width="1" height="24" fill="#26a69a"/>
<rect x="1139" y="404" width="3" height="4" fill="#26a69a"/>
<rect x="1144" y="402" width="1" height="26" fill="#ef5350"/>
<rect x="1143" y="403" width="3" height="21" fill="#ef5350"/>
<rect x="1148" y="400" width="1" height="24" fill="#26a69a"/>
<rect x="1147" y="408" width="3" height="2" fill="#26a69a"/>
<rect x="1152" y="374" width="1" height="39" fill="#26a69a"/>
<rect x="1151" y="394" width="3" height="17" fill="#26a69a"/>
<rect x="1156" y="388" width="1" height="20" fill="#ef5350"/>
<rect x="1155" y="398" width="3" height="5" fill="#ef5350"/>
<rect x="1160" y="339" width="1" height="44" fill="#26a69a"/>
<rect x="1159" y="342" width="3" height="40" fill="#26a69a"/>
<rect x="1164" y="344" width="1" height="15" fill="#ef5350"/>
<rect x="1163" y="345" width="3" height="12" fill="#ef5350"/>
<rect x="1168" y="350" width="1" height="17" fill="#ef5350"/>
<rect x="1167" y="354" width="3" height="7" fill="#ef5350"/>
<rect x="1172" y="345" width="1" height="31" fill="#26a69a"/>
<rect x="1171" y="346" width="3" height="26" fill="#26a69a"/>
<rect x="1176" y="330" width="1" height="23" fill="#26a69a"/>
<rect x="1175" y="333" width="3" height="15" fill="#26a69a"/>
<rect x="1180" y="321" width="1" height="31" fill="#26a69a"/>
<rect x="1179" y="326" width="3" height="19" fill="#26a69a"/>
<rect x="1184" y="320" width="1" height="20" fill="#ef5350"/>
<rect x="1183" y="321" width="3" height="11" fill="#ef5350"/>
<rect x="1188" y="330" width="1" height="45" fill="#ef5350"/>
<rect x="1187" y="331" width="3" height="43" fill="#ef5350"/>
<rect x="1192" y="358" width="1" height="26" fill="#26a69a"/>
<rect x="1191" y="369" width="3" height="4" fill="#26a69a"/>
<rect x="1196" y="366" width="1" height="41" fill="#ef5350"/>
<rect x="1195" y="370" width="3" height="17" fill="#ef5350"/>
<rect x="1200" y="358" width="1" height="13" fill="#26a69a"/>
<rect x="1199" y="361" width="3" height="8" fill="#26a69a"/>
<rect x="1204" y="343" width="1" height="27" fill="#26a69a"/>
<rect x="1203" y="343" width="3" height="21" fill="#26a69a"/>
<rect x="1208" y="340" width="1" height="22" fill="#ef5350"/>
<rect x="1207" y="344" width="3" height="12" fill="#ef5350"/>
<rect x="1212" y="327" width="1" height="47" fill="#ef5350"/>
<rect x="1211" y="333" width="3" height="22" fill="#ef5350"/>
<rect x="1216" y="345" width="1" height="25" fill="#26a69a"/>
<rect x="1215" y="352" width="3" height="6" fill="#26a69a"/>
<rect x="1220" y="346" width="1" height="27" fill="#26a69a"/>
<rect x="1219" y="347" width="3" height="11" fill="#26a69a"/>
<rect x="1224" y="334" width="1" height="28" fill="#26a69a"/>
<rect x="1223" y="337" width="3" height="16" fill="#26a69a"/>
<rect x="1228" y="330" width="1" height="13" fill="#ef5350"/>
<rect x="1227" y="335" width="3" height="8" fill="#ef5350"/>
<rect x="1232" y="329" width="1" height="25" fill="#ef5350"/>
<rect x="1231" y="343" width="3" height="3" fill="#ef5350"/>
<rect x="1236" y="317" width="1" height="29" fill="#26a69a"/>
<rect x="1235" y="325" width="3" height="21" fill="#26a69a"/>
<rect x="1240" y="318" width="1" height="18" fill="#ef5350"/>
<rect x="1239" y="325" width="3" height="1" fill="#ef5350"/>
<rect x="1244" y="317" width="1" height="16" fill="#26a69a"/>
<rect x="1243" y="322" width="3" height="4" fill="#26a69a"/>
<rect x="1248" y="307" width="1" height="21" fill="#26a69a"/>
<rect x="1247" y="320" width="3" height="2" fill="#26a69a"/>
<rect x="1252" y="314" width="1" height="22" fill="#26a69a"/>
<rect x="1251" y="315" width="3" height="8" fill="#26a69a"/>
<rect x="1256" y="326" width="1" height="35" fill="#ef5350"/>
<rect x="1255" y="326" width="3" height="27" fill="#ef5350"/>
<rect x="1260" y="326" width="1" height="29" fill="#26a69a"/>
<rect x="1259" y="335" width="3" height="18" fill="#26a69a"/>
<rect x="1264" y="335" width="1" height="22" fill="#ef5350"/>
<rect x="1263" y="348" width="3" height="4" fill="#ef5350"/>
<rect x="1268" y="336" width="1" height="22" fill="#26a69a"/>
<rect x="1267" y="353" width="3" height="4" fill="#26a69a"/>
<rect x="1272" y="354" width="1" height="22" fill="#ef5350"/>
<rect x="1271" y="354" width="3" height="19" fill="#ef5350"/>
<rect x="1276" y="341" width="1" height="24" fill="#26a69a"/>
<rect x="1275" y="352" width="3" height="10" fill="#26a69a"/>
<rect x="1280" y="332" width="1" height="33" fill="#26a69a"/>
<rect x="1279" y="333" width="3" height="27" fill="#26a69a"/>
<rect x="1284" y="302" width="1" height="25" fill="#26a69a"/>
<rect x="1283" y="308" width="3" height="17" fill="#26a69a"/>
<rect x="1288" y="305" width="1" height="15" fill="#ef5350"/>
<rect x="1287" y="307" width="3" height="8" fill="#ef5350"/>
<rect x="1292" y="290" width="1" height="24" fill="#26a69a"/>
<rect x="1291" y="293" width="3" height="20" fill="#26a69a"/>
<rect x="1296" y="263" width="1" height="28" fill="#26a69a"/>
<rect x="1295" y="272" width="3" height="19" fill="#26a69a"/>
<rect x="1300" y="255" width="1" height="13" fill="#26a69a"/>
<rect x="1299" y="259" width="3" height="3" fill="#26a69a"/>
<rect x="1304" y="231" width="1" height="32" fill="#26a69a"/>
<rect x="1303" y="236" width="3" height="22" fill="#26a69a"/>
<rect x="1308" y="228" width="1" height="17" fill="#ef5350"/>
<rect x="1307" y="235" width="3" height="4" fill="#ef5350"/>
<rect x="1312" y="218" width="1" height="22" fill="#26a69a"/>
<rect x="1311" y="219" width="3" height="18" fill="#26a69a"/>
<rect x="1316" y="224" width="1" height="14" fill="#ef5350"/>
<rect x="1315" y="224" width="3" height="10" fill="#ef5350"/>
<rect x="1320" y="219" width="1" height="36" fill="#ef5350"/>
<rect x="1319" y="227" width="3" height="19" fill="#ef5350"/>
<rect x="1324" y="239" width="1" height="14" fill="#ef5350"/>
<rect x="1323" y="245" width="3" height="6" fill="#ef5350"/>
<rect x="1328" y="235" width="1" height="20" fill="#26a69a"/>
<rect x="1327" y="238" width="3" height="14" fill="#26a69a"/>
<rect x="1332" y="223" width="1" height="25" fill="#26a69a"/>
<rect x="1331" y="231" width="3" height="10" fill="#26a69a"/>
<rect x="1336" y="228" width="1" height="22" fill="#ef5350"/>
<rect x="1335" y="228" width="3" height="19" fill="#ef5350"/>
<rect x="1340" y="239" width="1" height="20" fill="#26a69a"/>
<rect x="1339" y="240" width="3" height="13" fill="#26a69a"/>
<rect x="1344" y="232" width="1" height="32" fill="#ef5350"/>
<rect x="1343" y="241" width="3" height="23" fill="#ef5350"/>
<rect x="1348" y="249" width="1" height="27" fill="#26a69a"/>
<rect x="1347" y="252" width="3" height="14" fill="#26a69a"/>
<rect x="1352" y="235" width="1" height="21" fill="#26a69a"/>
<rect x="1351" y="237" width="3" height="18" fill="#26a69a"/>
<rect x="1356" y="230" width="1" height="23" fill="#ef5350"/>
<rect x="1355" y="235" width="3" height="13" fill="#ef5350"/>
<rect x="1360" y="232" width="1" height="15" fill="#ef5350"/>
<rect x="1359" y="243" width="3" height="1" fill="#ef5350"/>
<rect x="1364" y="235" width="1" height="17" fill="#26a69a"/>
<rect x="1363" y="236" width="3" height="8" fill="#26a69a"/>
<rect x="1368" y="210" width="1" height="26" fill="#26a69a"/>
<rect x="1367" y="214" width="3" height="18" fill="#26a69a"/>
<rect x="1372" y="215" width="1" height="15" fill="#ef5350"/>
<rect x="1371" y="216" width="3" height="12" fill="#ef5350"/>
<rect x="1376" y="215" width="1" height="17" fill="#26a69a"/>
<rect x="1375" y="218" width="3" height="6" fill="#26a69a"/>
<rect x="1380" y="205" width="1" height="21" fill="#ef5350"/>
<rect x="1379" y="209" width="3" height="12" fill="#ef5350"/>
<rect x="1384" y="214" width="1" height="19" fill="#ef5350"/>
<rect x="1383" y="219" width="3" height="13" fill="#ef5350"/>
<rect x="1388" y="225" width="1" height="26" fill="#ef5350"/>
<rect x="1387" y="230" width="3" height="3" fill="#ef5350"/>
<rect x="1392" y="227" width="1" height="34" fill="#ef5350"/>
<rect x="1391" y="235" width="3" height="23" fill="#ef5350"/>
<rect x="1396" y="255" width="1" height="40" fill="#ef5350"/>
<rect x="1395" y="257" width="3" height="28" fill="#ef5350"/>
<rect x="1400" y="251" width="1" height="33" fill="#26a69a"/>
<rect x="1399" y="251" width="3" height="32" fill="#26a69a"/>
<rect x="1404" y="247" width="1" height="21" fill="#ef5350"/>
<rect x="1403" y="252" width="3" height="5" fill="#ef5350"/>
<rect x="1408" y="244" width="1" height="19" fill="#26a69a"/>
<rect x="1407" y="253" width="3" height="5" fill="#26a69a"/>
<rect x="1412" y="238" width="1" height="36" fill="#ef5350"/>
<rect x="1411" y="251" width="3" height="12" fill="#ef5350"/>
<rect x="1416" y="249" width="1" height="16" fill="#26a69a"/>
<rect x="1415" y="251" width="3" height="11" fill="#26a69a"/>
<rect x="1420" y="247" width="1" height="21" fill="#ef5350"/>
<rect x="1419" y="252" width="3" height="13" fill="#ef5350"/>
<rect x="1424" y="237" width="1" height="29" fill="#26a69a"/>
<rect x="1423" y="239" width="3" height="26" fill="#26a69a"/>
<rect x="1428" y="213" width="1" height="30" fill="#26a69a"/>
<rect x="1427" y="215" width="3" height="24" fill="#26a69a"/>
<rect x="1432" y="211" width="1" height="18" fill="#26a69a"/>
<rect x="1431" y="212" width="3" height="4" fill="#26a69a"/>
<rect x="1436" y="198" width="1" height="21" fill="#ef5350"/>
<rect x="1435" y="209" width="3" height="8" fill="#ef5350"/>
<rect x="1440" y="210" width="1" height="12" fill="#ef5350"/>
<rect x="1439" y="211" width="3" height="7" fill="#ef5350"/>
<rect x="1444" y="201" width="1" height="24" fill="#26a69a"/>
<rect x="1443" y="215" width="3" height="1" fill="#26a69a"/>
<rect x="1448" y="209" width="1" height="16" fill="#ef5350"/>
<rect x="1447" y="215" width="3" height="2" fill="#ef5350"/>
<rect x="1452" y="214" width="1" height="19" fill="#ef5350"/>
<rect x="1451" y="217" width="3" height="6" fill="#ef5350"/>
<rect x="1456" y="174" width="1" height="56" fill="#26a69a"/>
<rect x="1455" y="179" width="3" height="42" fill="#26a69a"/>
<rect x="1460" y="178" width="1" height="22" fill="#ef5350"/>
<rect x="1459" y="179" width="3" height="19" fill="#ef5350"/>
<rect x="1464" y="190" width="1" height="17" fill="#26a69a"/>
<rect x="1463" y="190" width="3" height="6" fill="#26a69a"/>
<rect x="1468" y="180" width="1" height="14" fill="#26a69a"/>
<rect x="1467" y="184" width="3" height="7" fill="#26a69a"/>
<rect x="1472" y="175" width="1" height="16" fill="#26a69a"/>
<rect x="1471" y="179" width="3" height="6" fill="#26a69a"/>
<rect x="1476" y="181" width="1" height="15" fill="#ef5350"/>
<rect x="1475" y="183" width="3" height="3" fill="#ef5350"/>
<rect x="1480" y="178" width="1" height="12" fill="#ef5350"/>
<rect x="1479" y="179" width="3" height="5" fill="#ef5350"/>
<rect x="1484" y="184" width="1" height="32" fill="#ef5350"/>
<rect x="1483" y="186" width="3" height="12" fill="#ef5350"/>
<rect x="1488" y="199" width="1" height="9" fill="#26a69a"/>
<rect x="1487" y="200" width="3" height="3" fill="#26a69a"/>
</g>
<g shape-rendering="crispEdges">
<rect x="1" y="132" width="1847" height="2" fill="#000"/>
<rect x="1" y="172" width="1847" height="2" fill="#f00000"/>
<rect x="1" y="200" width="1847" height="1" fill="#26a69a"/>
<rect x="1" y="233" width="1847" height="2" fill="#1c8a1c"/>
<rect x="1" y="296" width="1847" height="2" fill="#000"/>
</g>
<g stroke="#00aeef" stroke-width="2.1" stroke-linecap="round" fill="none">
<line x1="-1" y1="518.2" x2="164" y2="437"/>
<line x1="353" y1="442.5" x2="772" y2="141"/>
<line x1="372.5" y1="544.5" x2="792" y2="242.5"/>
<line x1="897" y1="209.5" x2="1336" y2="479"/>
<line x1="1068.5" y1="611" x2="1588" y2="113"/>
</g>
<path d="M68.3,608.2 L75.89999999999999,614.9000000000001 H72.1 V626.0 H64.5 V614.9000000000001 H60.699999999999996 Z" fill="none" stroke="#000" stroke-width="1.1" stroke-linejoin="miter"/>
<path d="M372.2,550.4 L379.8,557.1 H376.0 V568.1999999999999 H368.4 V557.1 H364.59999999999997 Z" fill="none" stroke="#000" stroke-width="1.1" stroke-linejoin="miter"/>
<path d="M723.7,211.0 L731.3000000000001,204.3 H727.5 V193.2 H719.9000000000001 V204.3 H716.1 Z" fill="none" stroke="#000" stroke-width="1.1" stroke-linejoin="miter"/>
<path d="M895.6,201.0 L903.2,194.3 H899.4 V183.2 H891.8000000000001 V194.3 H888.0 Z" fill="none" stroke="#000" stroke-width="1.1" stroke-linejoin="miter"/>
<path d="M1068.2,616.4 L1075.8,623.1 H1072.0 V634.1999999999999 H1064.4 V623.1 H1060.6000000000001 Z" fill="none" stroke="#000" stroke-width="1.1" stroke-linejoin="miter"/>
<path d="M1483.6,1.6 H1493.4 L1488.5,7 Z" fill="#ece8ef"/>
<g shape-rendering="crispEdges" fill="#000">
<rect x="0" y="0" width="1849" height="1"/>
<rect x="0" y="0" width="1" height="806"/>
<rect x="1848" y="0" width="1" height="806"/>
<rect x="0" y="805" width="1849" height="1"/>
<rect x="1849" y="5" width="4" height="1"/>
<rect x="1849" y="37" width="4" height="1"/>
<rect x="1849" y="69" width="4" height="1"/>
<rect x="1849" y="101" width="4" height="1"/>
<rect x="1849" y="133" width="4" height="1"/>
<rect x="1849" y="165" width="4" height="1"/>
<rect x="1849" y="197" width="4" height="1"/>
<rect x="1849" y="229" width="4" height="1"/>
<rect x="1849" y="261" width="4" height="1"/>
<rect x="1849" y="293" width="4" height="1"/>
<rect x="1849" y="325" width="4" height="1"/>
<rect x="1849" y="357" width="4" height="1"/>
<rect x="1849" y="389" width="4" height="1"/>
<rect x="1849" y="421" width="4" height="1"/>
<rect x="1849" y="453" width="4" height="1"/>
<rect x="1849" y="485" width="4" height="1"/>
<rect x="1849" y="517" width="4" height="1"/>
<rect x="1849" y="549" width="4" height="1"/>
<rect x="1849" y="581" width="4" height="1"/>
<rect x="1849" y="613" width="4" height="1"/>
<rect x="1849" y="645" width="4" height="1"/>
<rect x="1849" y="677" width="4" height="1"/>
<rect x="1849" y="709" width="4" height="1"/>
<rect x="1849" y="741" width="4" height="1"/>
<rect x="1849" y="773" width="4" height="1"/>
<rect x="0" y="805" width="1" height="5"/>
<rect x="128" y="805" width="1" height="5"/>
<rect x="256" y="805" width="1" height="5"/>
<rect x="384" y="805" width="1" height="5"/>
<rect x="512" y="805" width="1" height="5"/>
<rect x="640" y="805" width="1" height="5"/>
<rect x="768" y="805" width="1" height="5"/>
<rect x="896" y="805" width="1" height="5"/>
<rect x="1024" y="805" width="1" height="5"/>
<rect x="1152" y="805" width="1" height="5"/>
<rect x="1280" y="805" width="1" height="5"/>
<rect x="1408" y="805" width="1" height="5"/>
</g>
<g font-size="12.4" fill="#000">
<text x="1854.5" y="10" textLength="46.1" lengthAdjust="spacingAndGlyphs">49128.0</text>
<text x="1854.5" y="42" textLength="46.1" lengthAdjust="spacingAndGlyphs">48492.5</text>
<text x="1854.5" y="74" textLength="46.1" lengthAdjust="spacingAndGlyphs">47857.0</text>
<text x="1854.5" y="106" textLength="46.1" lengthAdjust="spacingAndGlyphs">47221.5</text>
<text x="1854.5" y="138" textLength="46.1" lengthAdjust="spacingAndGlyphs">46586.0</text>
<text x="1854.5" y="170" textLength="46.1" lengthAdjust="spacingAndGlyphs">45950.5</text>
<text x="1854.5" y="202" textLength="46.1" lengthAdjust="spacingAndGlyphs">45315.0</text>
<text x="1854.5" y="234" textLength="46.1" lengthAdjust="spacingAndGlyphs">44679.5</text>
<text x="1854.5" y="266" textLength="46.1" lengthAdjust="spacingAndGlyphs">44044.0</text>
<text x="1854.5" y="298" textLength="46.1" lengthAdjust="spacingAndGlyphs">43408.5</text>
<text x="1854.5" y="330" textLength="46.1" lengthAdjust="spacingAndGlyphs">42773.0</text>
<text x="1854.5" y="362" textLength="46.1" lengthAdjust="spacingAndGlyphs">42137.5</text>
<text x="1854.5" y="394" textLength="46.1" lengthAdjust="spacingAndGlyphs">41502.0</text>
<text x="1854.5" y="426" textLength="46.1" lengthAdjust="spacingAndGlyphs">40866.5</text>
<text x="1854.5" y="458" textLength="46.1" lengthAdjust="spacingAndGlyphs">40231.0</text>
<text x="1854.5" y="490" textLength="46.1" lengthAdjust="spacingAndGlyphs">39595.5</text>
<text x="1854.5" y="522" textLength="46.1" lengthAdjust="spacingAndGlyphs">38960.0</text>
<text x="1854.5" y="554" textLength="46.1" lengthAdjust="spacingAndGlyphs">38324.5</text>
<text x="1854.5" y="586" textLength="46.1" lengthAdjust="spacingAndGlyphs">37689.0</text>
<text x="1854.5" y="618" textLength="46.1" lengthAdjust="spacingAndGlyphs">37053.5</text>
<text x="1854.5" y="650" textLength="46.1" lengthAdjust="spacingAndGlyphs">36418.0</text>
<text x="1854.5" y="682" textLength="46.1" lengthAdjust="spacingAndGlyphs">35782.5</text>
<text x="1854.5" y="714" textLength="46.1" lengthAdjust="spacingAndGlyphs">35147.0</text>
<text x="1854.5" y="746" textLength="46.1" lengthAdjust="spacingAndGlyphs">34511.5</text>
<text x="1854.5" y="778" textLength="46.1" lengthAdjust="spacingAndGlyphs">33876.0</text>
</g>
<rect x="1851" y="126" width="54" height="14" fill="#000" shape-rendering="crispEdges"/><text x="1854.5" y="138" font-size="12.4" fill="#fff" textLength="46.1" lengthAdjust="spacingAndGlyphs">46595.0</text>
<rect x="1851" y="166" width="54" height="14" fill="#ff0000" shape-rendering="crispEdges"/><text x="1854.5" y="178" font-size="12.4" fill="#fff" textLength="46.1" lengthAdjust="spacingAndGlyphs">45790.0</text>
<rect x="1851" y="193" width="54" height="14" fill="#2ca59e" shape-rendering="crispEdges"/><text x="1854.5" y="205" font-size="12.4" fill="#fff" textLength="46.1" lengthAdjust="spacingAndGlyphs">45263.5</text>
<rect x="1851" y="227" width="54" height="14" fill="#228b22" shape-rendering="crispEdges"/><text x="1854.5" y="239" font-size="12.4" fill="#fff" textLength="46.1" lengthAdjust="spacingAndGlyphs">44590.0</text>
<rect x="1851" y="290" width="54" height="14" fill="#000" shape-rendering="crispEdges"/><text x="1854.5" y="302" font-size="12.4" fill="#fff" textLength="46.1" lengthAdjust="spacingAndGlyphs">43325.0</text>
<text x="59.59" y="19" font-size="12.4" fill="#000" textLength="61.59" lengthAdjust="spacingAndGlyphs">.US30Cash,</text>
<text x="124.96" y="19" font-size="12.4" fill="#000" textLength="28.16" lengthAdjust="spacingAndGlyphs">Daily:</text>
<text x="160.65" y="19" font-size="12.4" fill="#000" textLength="15.88" lengthAdjust="spacingAndGlyphs">US</text>
<text x="180.18" y="19" font-size="12.4" fill="#000" textLength="22.80" lengthAdjust="spacingAndGlyphs">Wall</text>
<text x="205.85" y="19" font-size="12.4" fill="#000" textLength="35.42" lengthAdjust="spacingAndGlyphs">Street</text>
<text x="244.95" y="19" font-size="12.4" fill="#000" textLength="14.72" lengthAdjust="spacingAndGlyphs">30</text>
<text x="262.70" y="19" font-size="12.4" fill="#000" textLength="31.97" lengthAdjust="spacingAndGlyphs">Index</text>
<text x="297.99" y="19" font-size="12.4" fill="#000" textLength="21.85" lengthAdjust="spacingAndGlyphs">CFD</text>
<text x="-1.00" y="821.0" font-size="12.4" fill="#000" textLength="69.08" lengthAdjust="spacingAndGlyphs">26 Mar 2024</text>
<text x="128.12" y="821.0" font-size="12.4" fill="#000" textLength="70.24" lengthAdjust="spacingAndGlyphs">10 May 2024</text>
<text x="255.62" y="821.0" font-size="12.4" fill="#000" textLength="69.04" lengthAdjust="spacingAndGlyphs">25 Jun 2024</text>
<text x="383.30" y="821.0" font-size="12.4" fill="#000" textLength="64.98" lengthAdjust="spacingAndGlyphs">8 Aug 2024</text>
<text x="510.64" y="821.0" font-size="12.4" fill="#000" textLength="71.62" lengthAdjust="spacingAndGlyphs">23 Sep 2024</text>
<text x="638.80" y="821.0" font-size="12.4" fill="#000" textLength="64.28" lengthAdjust="spacingAndGlyphs">6 Nov 2024</text>
<text x="766.92" y="821.0" font-size="12.4" fill="#000" textLength="71.23" lengthAdjust="spacingAndGlyphs">20 Dec 2024</text>
<text x="894.84" y="821.0" font-size="12.4" fill="#000" textLength="64.15" lengthAdjust="spacingAndGlyphs">6 Feb 2025</text>
<text x="1023.08" y="821.0" font-size="12.4" fill="#000" textLength="69.94" lengthAdjust="spacingAndGlyphs">24 Mar 2025</text>
<text x="1151.28" y="821.0" font-size="12.4" fill="#000" textLength="64.59" lengthAdjust="spacingAndGlyphs">8 May 2025</text>
<text x="1279.20" y="821.0" font-size="12.4" fill="#000" textLength="69.58" lengthAdjust="spacingAndGlyphs">23 Jun 2025</text>
<text x="1406.99" y="821.0" font-size="12.4" fill="#000" textLength="65.77" lengthAdjust="spacingAndGlyphs">6 Aug 2025</text>
<g fill="none">
<path d="M15.5,7.2 H8.2 Q6.9,7.2 6.9,8.5 V18.5 Q6.9,19.8 8.2,19.8 H15.5" stroke="#e4605a" stroke-width="1.3"/>
<path d="M15.5,7.2 H23 Q24.3,7.2 24.3,8.5 V18.5 Q24.3,19.8 23,19.8 H15.5" stroke="#1a66b0" stroke-width="1.3"/>
<g stroke="#e8524a" stroke-width="1.5"><line x1="9" y1="10.2" x2="15" y2="10.2"/><line x1="9" y1="13.6" x2="15" y2="13.6"/><line x1="9" y1="17" x2="15" y2="17"/></g>
<g stroke="#1a6fc0" stroke-width="1.5"><line x1="16.2" y1="10.2" x2="22.2" y2="10.2"/><line x1="16.2" y1="13.6" x2="22.2" y2="13.6"/><line x1="16.2" y1="17" x2="22.2" y2="17"/></g>
</g>
<g stroke-width="1.2" stroke-linejoin="round">
<path d="M33.6,7.6 H37.4 V13.4 H41.4 V19.4 H33.6 Z" fill="#fcdcd4" stroke="#e0524a"/>
<path d="M47.6,7.6 H51.4 V19.4 H43.6 V13.4 H47.6 Z" fill="#b8dcf8" stroke="#1464b4"/>
<rect x="40" y="7.6" width="5" height="2.2" rx="1.1" fill="#fff" stroke="#a8a8a8" stroke-width="1"/>
</g>
</svg></body></html>
